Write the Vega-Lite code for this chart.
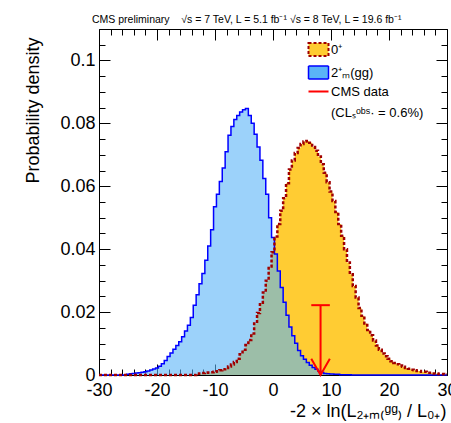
{
  "$schema": "https://vega.github.io/schema/vega-lite/v6.json",
  "width": 348,
  "height": 346,
  "autosize": {"type": "none"},
  "padding": {"left": 99, "top": 29, "right": 4, "bottom": 48},
  "background": "white",
  "title": {
    "text": "CMS preliminary\u00a0\u00a0\u00a0\u00a0\u221as = 7 TeV, L = 5.1 fb\u207b\u00b9\u00a0\u221as = 8 TeV, L = 19.6 fb\u207b\u00b9",
    "anchor": "start",
    "frame": "group",
    "dx": -7,
    "offset": -5,
    "baseline": "alphabetic",
    "fontSize": 10.5,
    "font": "Liberation Sans",
    "fontWeight": "normal",
    "color": "black"
  },
  "config": {
    "view": {"stroke": "black", "strokeWidth": 1},
    "axis": {
      "labelFont": "Liberation Sans",
      "titleFont": "Liberation Sans",
      "titleFontWeight": "normal",
      "tickColor": "black",
      "labelColor": "black",
      "titleColor": "black",
      "domain": false,
      "grid": false,
      "zindex": 1
    }
  },
  "datasets": {
    "orange": [
      {"x": -30, "y": 0}, {"x": -13.5, "y": 0}, {"x": -13, "y": 0.0004}, {"x": -12.5, "y": 0.0005},
      {"x": -12, "y": 0.0006}, {"x": -11.5, "y": 0.0007}, {"x": -11, "y": 0.0008}, {"x": -10.5, "y": 0.0009},
      {"x": -10, "y": 0.001}, {"x": -9.5, "y": 0.0012}, {"x": -9, "y": 0.0015}, {"x": -8.5, "y": 0.0018},
      {"x": -8, "y": 0.0022}, {"x": -7.5, "y": 0.0027}, {"x": -7, "y": 0.0033}, {"x": -6.5, "y": 0.0041},
      {"x": -6, "y": 0.0052}, {"x": -5.5, "y": 0.0066}, {"x": -5, "y": 0.008}, {"x": -4.5, "y": 0.0095},
      {"x": -4, "y": 0.0111}, {"x": -3.5, "y": 0.0132}, {"x": -3, "y": 0.0164}, {"x": -2.5, "y": 0.0197},
      {"x": -2, "y": 0.023}, {"x": -1.5, "y": 0.0262}, {"x": -1, "y": 0.03}, {"x": -0.5, "y": 0.0345},
      {"x": 0, "y": 0.039}, {"x": 0.5, "y": 0.044}, {"x": 1, "y": 0.048}, {"x": 1.5, "y": 0.0522},
      {"x": 2, "y": 0.0562}, {"x": 2.5, "y": 0.061}, {"x": 3, "y": 0.0653}, {"x": 3.5, "y": 0.0682},
      {"x": 4, "y": 0.0706}, {"x": 4.5, "y": 0.0722}, {"x": 5, "y": 0.0734}, {"x": 5.5, "y": 0.0742},
      {"x": 6, "y": 0.0744}, {"x": 6.5, "y": 0.0738}, {"x": 7, "y": 0.0725}, {"x": 7.5, "y": 0.0713},
      {"x": 8, "y": 0.0695}, {"x": 8.5, "y": 0.067}, {"x": 9, "y": 0.0643}, {"x": 9.5, "y": 0.0613},
      {"x": 10, "y": 0.0583}, {"x": 10.5, "y": 0.0553}, {"x": 11, "y": 0.0518}, {"x": 11.5, "y": 0.048},
      {"x": 12, "y": 0.0443}, {"x": 12.5, "y": 0.04}, {"x": 13, "y": 0.0358}, {"x": 13.5, "y": 0.032},
      {"x": 14, "y": 0.0283}, {"x": 14.5, "y": 0.0246}, {"x": 15, "y": 0.0213}, {"x": 15.5, "y": 0.0188},
      {"x": 16, "y": 0.0164}, {"x": 16.5, "y": 0.0143}, {"x": 17, "y": 0.0126}, {"x": 17.5, "y": 0.011},
      {"x": 18, "y": 0.0094}, {"x": 18.5, "y": 0.008}, {"x": 19, "y": 0.0068}, {"x": 19.5, "y": 0.006},
      {"x": 20, "y": 0.0052}, {"x": 20.5, "y": 0.0044}, {"x": 21, "y": 0.0038}, {"x": 21.5, "y": 0.0034},
      {"x": 22, "y": 0.003}, {"x": 22.5, "y": 0.0026}, {"x": 23, "y": 0.0022}, {"x": 23.5, "y": 0.002},
      {"x": 24, "y": 0.0017}, {"x": 24.5, "y": 0.0015}, {"x": 25, "y": 0.0013}, {"x": 26, "y": 0.001},
      {"x": 27, "y": 0.0007}, {"x": 28, "y": 0.0005}, {"x": 29, "y": 0.0003}, {"x": 30, "y": 0.0002}
    ],
    "blue": [
      {"x": -30, "y": 0}, {"x": -25.5, "y": 0}, {"x": -25, "y": 0.0002}, {"x": -24.5, "y": 0.0004},
      {"x": -24, "y": 0.0005}, {"x": -23.5, "y": 0.0006}, {"x": -23, "y": 0.0007}, {"x": -22.5, "y": 0.0009},
      {"x": -22, "y": 0.001}, {"x": -21.5, "y": 0.0013}, {"x": -21, "y": 0.0016}, {"x": -20.5, "y": 0.0019},
      {"x": -20, "y": 0.0022}, {"x": -19.5, "y": 0.0028}, {"x": -19, "y": 0.0036}, {"x": -18.5, "y": 0.0046},
      {"x": -18, "y": 0.0059}, {"x": -17.5, "y": 0.007}, {"x": -17, "y": 0.0082}, {"x": -16.5, "y": 0.0094},
      {"x": -16, "y": 0.0106}, {"x": -15.5, "y": 0.0122}, {"x": -15, "y": 0.014}, {"x": -14.5, "y": 0.0158},
      {"x": -14, "y": 0.0183}, {"x": -13.5, "y": 0.0222}, {"x": -13, "y": 0.0255}, {"x": -12.5, "y": 0.029},
      {"x": -12, "y": 0.0323}, {"x": -11.5, "y": 0.0365}, {"x": -11, "y": 0.041}, {"x": -10.5, "y": 0.0462},
      {"x": -10, "y": 0.0535}, {"x": -9.5, "y": 0.0575}, {"x": -9, "y": 0.0615}, {"x": -8.5, "y": 0.0658},
      {"x": -8, "y": 0.071}, {"x": -7.5, "y": 0.0762}, {"x": -7, "y": 0.079}, {"x": -6.5, "y": 0.0812},
      {"x": -6, "y": 0.0825}, {"x": -5.5, "y": 0.0836}, {"x": -5, "y": 0.0843}, {"x": -4.5, "y": 0.0847},
      {"x": -4, "y": 0.0825}, {"x": -3.5, "y": 0.08}, {"x": -3, "y": 0.0765}, {"x": -2.5, "y": 0.0725},
      {"x": -2, "y": 0.0683}, {"x": -1.5, "y": 0.0625}, {"x": -1, "y": 0.0575}, {"x": -0.5, "y": 0.05},
      {"x": 0, "y": 0.0437}, {"x": 0.5, "y": 0.0385}, {"x": 1, "y": 0.0331}, {"x": 1.5, "y": 0.0278},
      {"x": 2, "y": 0.0231}, {"x": 2.5, "y": 0.019}, {"x": 3, "y": 0.0153}, {"x": 3.5, "y": 0.0125},
      {"x": 4, "y": 0.0101}, {"x": 4.5, "y": 0.0078}, {"x": 5, "y": 0.0061}, {"x": 5.5, "y": 0.005},
      {"x": 6, "y": 0.004}, {"x": 6.5, "y": 0.0031}, {"x": 7, "y": 0.0024}, {"x": 7.5, "y": 0.0018},
      {"x": 8, "y": 0.0012}, {"x": 8.5, "y": 0.0008}, {"x": 9, "y": 0.0005}, {"x": 9.5, "y": 0.0004},
      {"x": 10, "y": 0.0003}, {"x": 11, "y": 0.0002}, {"x": 12, "y": 0.0001}, {"x": 13, "y": 0.0001},
      {"x": 14, "y": 0}, {"x": 30, "y": 0}
    ],
    "obs": [{"x": 8.2, "y": 0, "y2": 0.0222}],
    "cap": [{"x": 6.6, "x2": 9.8, "y": 0.0222}],
    "arrow": [{"x": 6.6, "y": 0.0052}, {"x": 8.2, "y": 0}, {"x": 9.8, "y": 0.0052}]
  },
  "resolve": {"axis": {"x": "independent", "y": "independent"}},
  "layer": [
    {
      "data": {"name": "orange"},
      "mark": {"type": "area", "interpolate": "step", "fillOpacity": 1},
      "encoding": {
        "x": {"field": "x", "type": "quantitative",
          "scale": {"domain": [-30, 30], "nice": false, "zero": false},
          "axis": {"orient": "bottom", "values": [-30, -20, -10, 0, 10, 20, 30], "ticks": false, "tickSize": 0,
            "labelFontSize": 18, "labelPadding": 6, "labelExpr": "toString(datum.value)", "labelFlush": false,
            "title": "-2 \u00d7 ln(L\u2082\u208a\u2098\u208d\u1d4d\u1d4d\u208e / L\u2080\u208a)", "titleFontSize": 18,
            "titleX": 347, "titleY": 41, "titleAlign": "right", "titleAnchor": "end", "titleBaseline": "alphabetic"}},
        "y": {"field": "y", "type": "quantitative",
          "scale": {"domain": [0, 0.11], "nice": false, "zero": false},
          "axis": {"orient": "left", "values": [0, 0.02, 0.04, 0.06, 0.08, 0.1], "ticks": false, "tickSize": 0,
            "labelFontSize": 18, "labelPadding": 4, "labelExpr": "toString(datum.value)", "labelFlush": false,
            "title": "Probability density", "titleFontSize": 18,
            "titleX": -61, "titleY": 8, "titleAngle": 270, "titleAlign": "right", "titleAnchor": "end", "titleBaseline": "alphabetic"}},
        "color": {"datum": "0\u207a", "type": "nominal",
          "scale": {"domain": ["0\u207a", "2\u207a\u2098(gg)", "CMS data", "(CL\u209b\u1d52\u1d47\u02e2\u00b7 = 0.6%)"],
            "range": ["#ffcc33", "#5ab4f7", "#ff0000", "transparent"]},
          "legend": {"orient": "none", "legendX": 213, "legendY": 14, "title": null, "padding": 0,
            "symbolSize": 400, "labelFontSize": 13, "labelFont": "Liberation Sans", "labelColor": "black",
            "labelOffset": 6, "rowPadding": 3, "symbolType": "square",
            "encode": {"symbols": {"update": {
              "shape": {"signal": "datum.index == 2 ? 'M-1,0H1' : 'M-1,-0.65H1V0.65H-1Z'"},
              "fill": {"signal": "datum.index == 0 ? '#ffcc33' : datum.index == 1 ? '#9ccff8' : 'transparent'"},
              "stroke": {"signal": "datum.index == 0 ? '#a00000' : datum.index == 1 ? '#0000ff' : datum.index == 2 ? '#ff0000' : 'transparent'"},
              "strokeDash": {"signal": "datum.index == 0 ? [3, 2] : [1, 0]"},
              "strokeWidth": {"signal": "datum.index == 1 ? 1.5 : 2"},
              "opacity": {"value": 1},
              "fillOpacity": {"value": 1}
            }}}}}
      }
    },
    {
      "data": {"name": "blue"},
      "mark": {"type": "area", "interpolate": "step", "fillOpacity": 0.6},
      "encoding": {
        "x": {"field": "x", "type": "quantitative",
          "scale": {"domain": [-30, 30], "nice": false, "zero": false},
          "axis": {"orient": "bottom", "values": [-30, -20, -10, 0, 10, 20, 30], "labels": false, "title": null, "tickSize": -11}},
        "y": {"field": "y", "type": "quantitative",
          "scale": {"domain": [0, 0.11], "nice": false, "zero": false},
          "axis": {"orient": "left", "values": [0, 0.02, 0.04, 0.06, 0.08, 0.1], "labels": false, "title": null, "tickSize": -11}},
        "color": {"datum": "2\u207a\u2098(gg)", "type": "nominal"}
      }
    },
    {
      "data": {"name": "blue"},
      "mark": {"type": "line", "interpolate": "step", "stroke": "#0000ff", "strokeWidth": 1.5},
      "encoding": {
        "x": {"field": "x", "type": "quantitative",
          "scale": {"domain": [-30, 30], "nice": false, "zero": false},
          "axis": {"orient": "bottom", "values": [-28, -26, -24, -22, -18, -16, -14, -12, -8, -6, -4, -2, 2, 4, 6, 8, 12, 14, 16, 18, 22, 24, 26, 28], "labels": false, "title": null, "tickSize": -6}},
        "y": {"field": "y", "type": "quantitative",
          "scale": {"domain": [0, 0.11], "nice": false, "zero": false},
          "axis": {"orient": "left", "values": [0.005, 0.01, 0.015, 0.025, 0.03, 0.035, 0.045, 0.05, 0.055, 0.065, 0.07, 0.075, 0.085, 0.09, 0.095, 0.105, 0.11], "labels": false, "title": null, "tickSize": -6}}
      }
    },
    {
      "data": {"name": "orange"},
      "mark": {"type": "line", "interpolate": "step", "stroke": "#a00000", "strokeWidth": 2.5, "strokeDash": [3, 2]},
      "encoding": {
        "x": {"field": "x", "type": "quantitative",
          "scale": {"domain": [-30, 30], "nice": false, "zero": false},
          "axis": {"orient": "top", "values": [-30, -20, -10, 0, 10, 20, 30], "labels": false, "title": null, "tickSize": -11}},
        "y": {"field": "y", "type": "quantitative",
          "scale": {"domain": [0, 0.11], "nice": false, "zero": false},
          "axis": {"orient": "right", "values": [0, 0.02, 0.04, 0.06, 0.08, 0.1], "labels": false, "title": null, "tickSize": -11}}
      }
    },
    {
      "data": {"name": "obs"},
      "mark": {"type": "rule", "stroke": "#ff0000", "strokeWidth": 2},
      "encoding": {
        "x": {"field": "x", "type": "quantitative",
          "scale": {"domain": [-30, 30], "nice": false, "zero": false},
          "axis": {"orient": "top", "values": [-28, -26, -24, -22, -18, -16, -14, -12, -8, -6, -4, -2, 2, 4, 6, 8, 12, 14, 16, 18, 22, 24, 26, 28], "labels": false, "title": null, "tickSize": -6}},
        "y": {"field": "y", "type": "quantitative",
          "scale": {"domain": [0, 0.11], "nice": false, "zero": false},
          "axis": {"orient": "right", "values": [0.005, 0.01, 0.015, 0.025, 0.03, 0.035, 0.045, 0.05, 0.055, 0.065, 0.07, 0.075, 0.085, 0.09, 0.095, 0.105, 0.11], "labels": false, "title": null, "tickSize": -6}},
        "y2": {"field": "y2"}
      }
    },
    {
      "data": {"name": "cap"},
      "mark": {"type": "rule", "stroke": "#ff0000", "strokeWidth": 2},
      "encoding": {
        "x": {"field": "x", "type": "quantitative", "axis": null},
        "x2": {"field": "x2"},
        "y": {"field": "y", "type": "quantitative", "axis": null}
      }
    },
    {
      "data": {"name": "arrow"},
      "mark": {"type": "line", "stroke": "#ff0000", "strokeWidth": 2},
      "encoding": {
        "x": {"field": "x", "type": "quantitative", "axis": null},
        "y": {"field": "y", "type": "quantitative", "axis": null},
        "order": {"field": "x", "type": "quantitative"}
      }
    }
  ]
}
